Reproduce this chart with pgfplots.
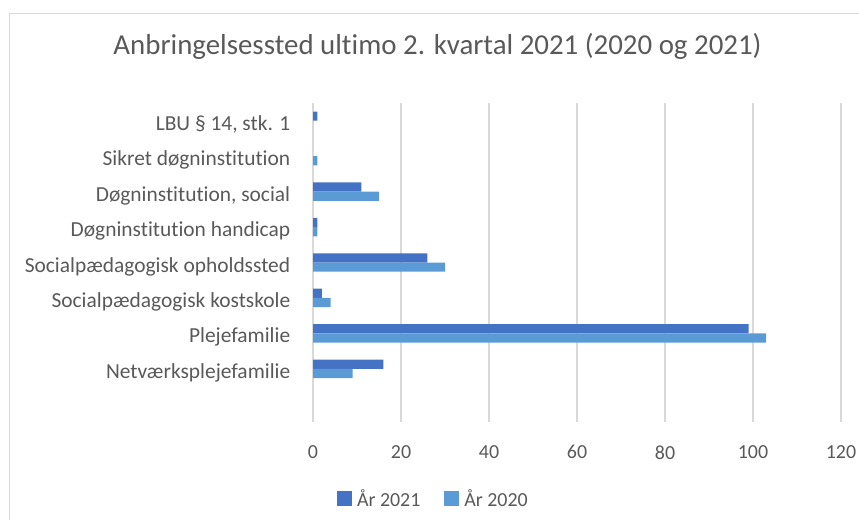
\documentclass[border=0pt]{standalone}
\usepackage{pgfplots}
\pgfplotsset{compat=1.18}
\usepackage{fontspec}
\setmainfont{Carlito}[Ligatures={NoCommon}]
\definecolor{c21}{HTML}{4472C4}
\definecolor{c20}{HTML}{5B9BD5}
\definecolor{txt}{HTML}{595959}
\definecolor{gridgray}{HTML}{D9D9D9}
\begin{document}
\begin{tikzpicture}
\path[use as bounding box] (0,0) rectangle (859bp,-520bp);
\draw[gridgray, line width=1bp] (9bp,-520bp) -- (9bp,-13bp) -- (859bp,-13bp);
\node[text=txt, font=\fontsize{29}{34}\selectfont, inner sep=0pt] at (437.5bp,-46bp) {Anbringelsessted ultimo 2. kvartal 2021 (2020 og 2021)};
\begin{axis}[
  at={(313bp,-422bp)}, anchor=south west,
  scale only axis, width=528bp, height=319bp,
  xmin=0, xmax=120, ymin=-0.5, ymax=8.5,
  xtick={0,20,...,120},
  ytick={1,...,8},
  yticklabels={Netværksplejefamilie, Plejefamilie, Socialpædagogisk kostskole, Socialpædagogisk opholdssted, Døgninstitution handicap, {Døgninstitution, social}, Sikret døgninstitution, {LBU § 14, stk. 1}},
  xmajorgrids,
  major grid style={gridgray, line width=1.3bp},
  axis line style={draw=none},
  tick style={draw=none},
  /pgf/number format/assume math mode=true,
  ticklabel style={text=txt},
  xticklabel style={yshift=-20bp, font=\fontsize{20}{24}\selectfont},
  yticklabel style={xshift=-15bp, yshift=-4bp, font=\fontsize{21.5}{25}\selectfont},
  xbar, bar width=0.26,
  legend columns=2,
  legend style={draw=none, fill=none, at={(0.228,-0.241)}, anchor=center,
    font=\fontsize{20}{24}\selectfont, text=txt,
    /tikz/every odd column/.append style={column sep=3bp},
    /tikz/every even column/.append style={column sep=22bp}},
  legend image code/.code={\path[#1, draw=none] (0bp,-7.5bp) rectangle (15bp,7.5bp);},
]
\addplot[fill=c21, draw=none, bar shift=0.13] coordinates {(16,1) (99,2) (2,3) (26,4) (1,5) (11,6) (1,8)};
\addplot[fill=c20, draw=none, bar shift=-0.13] coordinates {(9,1) (103,2) (4,3) (30,4) (1,5) (15,6) (1,7)};
\legend{År 2021, År 2020}
\end{axis}
\end{tikzpicture}
\end{document}
